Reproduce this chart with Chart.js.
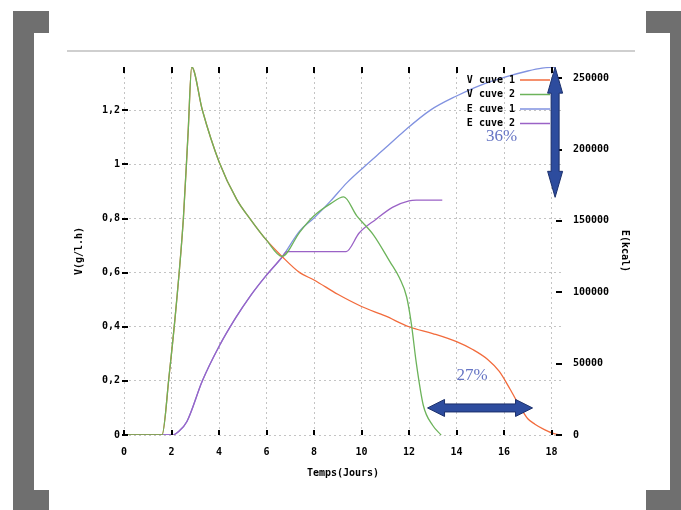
<!DOCTYPE html>
<html>
<head>
<meta charset="utf-8">
<script src="https://cdn.jsdelivr.net/npm/chart.js@4.4.1/dist/chart.umd.min.js"></script>
<style>
  body { margin: 0; background: #fff; }
  #wrap { position: relative; width: 681px; height: 510px; overflow: hidden; background: #fff; }
  .gray { position: absolute; background: #6f6f6f; }
  #topline { position: absolute; left: 67px; top: 50px; width: 568px; height: 2px; background: #cfcfcf; }
  canvas { position: absolute; left: 0; top: 0; }
</style>
</head>
<body>
<div id="wrap">
  <div class="gray" style="left:13px;top:11px;width:21px;height:499px"></div>
  <div class="gray" style="left:13px;top:11px;width:36px;height:22px"></div>
  <div class="gray" style="left:13px;top:490px;width:36px;height:20px"></div>
  <div class="gray" style="left:670px;top:11px;width:11px;height:499px"></div>
  <div class="gray" style="left:646px;top:11px;width:35px;height:22px"></div>
  <div class="gray" style="left:646px;top:490px;width:35px;height:20px"></div>
  <div id="topline"></div>
  <canvas id="energy_chart" width="681" height="510"></canvas>
</div>
<script>
// Temps (jours) -> V (g/l.h) et E (kcal)

const v_cuve_1_x = [0, 1.6, 1.9, 2.2, 2.5, 2.7, 2.85, 3.3, 4.0, 4.75, 5.3, 6.0, 6.65, 7.4, 8.0, 9.0, 10.0, 11.0, 12.0, 13.0, 14.0, 14.7, 15.3, 15.8, 16.25, 16.7, 17.0, 17.3, 17.7, 18.1, 18.4]
const v_cuve_1_y = [0, 0, 0.22, 0.48, 0.80, 1.12, 1.36, 1.20, 1.01, 0.87, 0.80, 0.72, 0.66, 0.60, 0.573, 0.52, 0.475, 0.44, 0.40, 0.375, 0.345, 0.315, 0.28, 0.235, 0.17, 0.10, 0.06, 0.04, 0.02, 0.005, 0]

const v_cuve_2_x = [0, 1.6, 1.9, 2.2, 2.5, 2.7, 2.85, 3.3, 4.0, 4.75, 5.3, 6.0, 6.65, 7.4, 8.0, 8.7, 9.25, 9.8, 10.5, 11.2, 11.6, 11.9, 12.1, 12.3, 12.6, 13.0, 13.35]
const v_cuve_2_y = [0, 0, 0.22, 0.48, 0.80, 1.12, 1.36, 1.20, 1.01, 0.87, 0.80, 0.72, 0.66, 0.75, 0.81, 0.855, 0.88, 0.81, 0.74, 0.64, 0.58, 0.51, 0.41, 0.27, 0.11, 0.035, 0]

const e_cuve_1_x = [0, 2.05, 2.3, 2.65, 3.3, 4.0, 4.7, 5.3, 6.0, 6.65, 7.4, 8.0, 8.7, 9.4, 10.15, 11.0, 11.8, 12.9, 14.0, 15.0, 16.0, 17.0, 17.6, 18.15]
const e_cuve_1_y = [0, 0, 2500, 9500, 38000, 62000, 82000, 97000, 112000, 124500, 143000, 152000, 164000, 177000, 188500, 201000, 213000, 227600, 237500, 245000, 250500, 255000, 257000, 257700]

const e_cuve_2_x = [0, 2.05, 2.3, 2.65, 3.3, 4.0, 4.7, 5.3, 6.0, 6.65, 6.85, 9.35, 9.9, 10.6, 11.3, 12.0, 12.3, 13.4]
const e_cuve_2_y = [0, 0, 2500, 9500, 38000, 62000, 82000, 97000, 112000, 124500, 128500, 128500, 141500, 151000, 159500, 164000, 164500, 164500]

const x_ticks = [0, 2, 4, 6, 8, 10, 12, 14, 16, 18]
const v_ticks = [0, 0.2, 0.4, 0.6, 0.8, 1, 1.2]
const e_ticks = [0, 50000, 100000, 150000, 200000, 250000]

// annotations : fleches et pourcentages
const arrow_e = [18.15, 257700, 166500]      // x, E haut, E bas
const arrow_v = [12.78, 17.2, 0.1]           // x gauche, x droite, V
const label_36 = [15.9, 209000]
const label_27 = [14.65, 0.22]

const to_points = (xs, ys) => xs.map((x, i) => ({x: x, y: ys[i]}))

const mono = '"DejaVu Sans Mono", monospace'

function draw_double_arrow(ctx, x1, y1, x2, y2, head, half_head) {
  const len = Math.hypot(x2 - x1, y2 - y1)
  const ang = Math.atan2(y2 - y1, x2 - x1)
  const half_shaft = 4
  ctx.save()
  ctx.translate(x1, y1)
  ctx.rotate(ang)
  ctx.beginPath()
  ctx.moveTo(0, 0)
  ctx.lineTo(head, -half_head)
  ctx.lineTo(head, -half_shaft)
  ctx.lineTo(len - head, -half_shaft)
  ctx.lineTo(len - head, -half_head)
  ctx.lineTo(len, 0)
  ctx.lineTo(len - head, half_head)
  ctx.lineTo(len - head, half_shaft)
  ctx.lineTo(head, half_shaft)
  ctx.lineTo(head, half_head)
  ctx.closePath()
  ctx.fillStyle = '#2d4c9e'
  ctx.fill()
  ctx.strokeStyle = '#1b2f6b'
  ctx.lineWidth = 1
  ctx.stroke()
  ctx.restore()
}

const extras_plugin = {
  id: 'extras',
  afterDatasetsDraw(chart) {
    const {ctx, chartArea: a, scales} = chart
    const x = scales.x, y = scales.y, y2 = scales.y2
    ctx.save()
    // petits traits de graduation
    ctx.strokeStyle = '#000'
    ctx.lineWidth = 2
    ctx.beginPath()
    x_ticks.forEach(t => {
      const px = Math.round(x.getPixelForValue(t))
      ctx.moveTo(px, a.bottom - 5); ctx.lineTo(px, a.bottom)
      ctx.moveTo(px, a.top); ctx.lineTo(px, a.top + 6)
    })
    v_ticks.forEach(t => {
      const py = Math.round(y.getPixelForValue(t))
      ctx.moveTo(a.left - 2, py); ctx.lineTo(a.left + 4, py)
    })
    e_ticks.forEach(t => {
      const py = Math.round(y2.getPixelForValue(t))
      ctx.moveTo(a.right - 6, py); ctx.lineTo(a.right, py)
    })
    ctx.stroke()

    // legende
    ctx.font = 'bold 10px ' + mono
    ctx.textAlign = 'right'
    ctx.textBaseline = 'middle'
    chart.data.datasets.forEach((ds, i) => {
      const ly = a.top + 13 + i * 14.5
      ctx.fillStyle = '#000'
      ctx.fillText(ds.label, a.right - 47, ly)
      ctx.strokeStyle = ds.borderColor
      ctx.lineWidth = 1.5
      ctx.beginPath()
      ctx.moveTo(a.right - 42, ly); ctx.lineTo(a.right - 12, ly)
      ctx.stroke()
    })

    // fleches
    draw_double_arrow(ctx, x.getPixelForValue(arrow_e[0]), y2.getPixelForValue(arrow_e[1]),
                      x.getPixelForValue(arrow_e[0]), y2.getPixelForValue(arrow_e[2]), 26, 7.5)
    draw_double_arrow(ctx, x.getPixelForValue(arrow_v[0]), y.getPixelForValue(arrow_v[2]),
                      x.getPixelForValue(arrow_v[1]), y.getPixelForValue(arrow_v[2]), 17, 8.5)

    // pourcentages
    ctx.font = '17px "Liberation Serif", serif'
    ctx.fillStyle = '#6675c4'
    ctx.textAlign = 'center'
    ctx.fillText('36%', x.getPixelForValue(label_36[0]), y2.getPixelForValue(label_36[1]))
    ctx.fillText('27%', x.getPixelForValue(label_27[0]), y.getPixelForValue(label_27[1]))
    ctx.restore()
  }
}

const grid_color = '#c4c4c4'

new Chart(document.getElementById('energy_chart').getContext('2d'), {
  type: 'line',
  data: {
    datasets: [
      {label: 'V cuve 1', data: to_points(v_cuve_1_x, v_cuve_1_y), borderColor: '#f26b3c', yAxisID: 'y', order: 1},
      {label: 'V cuve 2', data: to_points(v_cuve_2_x, v_cuve_2_y), borderColor: '#6cb35a', yAxisID: 'y', order: 0},
      {label: 'E cuve 1', data: to_points(e_cuve_1_x, e_cuve_1_y), borderColor: '#8192e0', yAxisID: 'y2', order: 3},
      {label: 'E cuve 2', data: to_points(e_cuve_2_x, e_cuve_2_y), borderColor: '#9a62c6', yAxisID: 'y2', order: 2}
    ]
  },
  options: {
    responsive: false,
    animation: false,
    devicePixelRatio: 1,
    layout: {padding: {left: 69, right: 46, top: 67, bottom: 27}},
    elements: {
      point: {radius: 0},
      line: {borderWidth: 1.3, cubicInterpolationMode: 'monotone', fill: false}
    },
    plugins: {legend: {display: false}, tooltip: {enabled: false}},
    scales: {
      x: {
        type: 'linear', min: 0, max: 18.44,
        afterFit: s => { s.height = 48 },
        afterBuildTicks: s => { s.ticks = x_ticks.map(v => ({value: v})) },
        grid: {color: grid_color, drawTicks: false, lineWidth: 1},
        border: {display: false, dash: [2, 3]},
        ticks: {padding: 11, color: '#000', font: {family: mono, size: 10, weight: 'bold'}},
        title: {display: true, text: 'Temps(Jours)', color: '#000', padding: {top: 2, bottom: 4},
                font: {family: mono, size: 10, weight: 'bold'}}
      },
      y: {
        position: 'left', min: 0, max: 1.36,
        afterFit: s => { s.width = 55 },
        afterBuildTicks: s => { s.ticks = v_ticks.map(v => ({value: v})) },
        grid: {color: grid_color, drawTicks: false, lineWidth: 1},
        border: {display: false, dash: [2, 3]},
        ticks: {padding: 4, color: '#000', font: {family: mono, size: 10, weight: 'bold'},
                callback: v => String(v).replace('.', ',')},
        title: {display: true, text: 'V(g/l.h)', color: '#000', padding: 4,
                font: {family: mono, size: 10, weight: 'bold'}}
      },
      y2: {
        position: 'right', min: 0, max: 257800,
        afterFit: s => { s.width = 73 },
        afterBuildTicks: s => { s.ticks = e_ticks.map(v => ({value: v})) },
        grid: {display: false, drawTicks: false},
        border: {display: false},
        ticks: {padding: 11, color: '#000', font: {family: mono, size: 10, weight: 'bold'},
                callback: v => String(v)},
        title: {display: true, text: 'E(kcal)', color: '#000', padding: 4,
                font: {family: mono, size: 10, weight: 'bold'}}
      }
    }
  },
  plugins: [extras_plugin]
})
</script>
</body>
</html>
